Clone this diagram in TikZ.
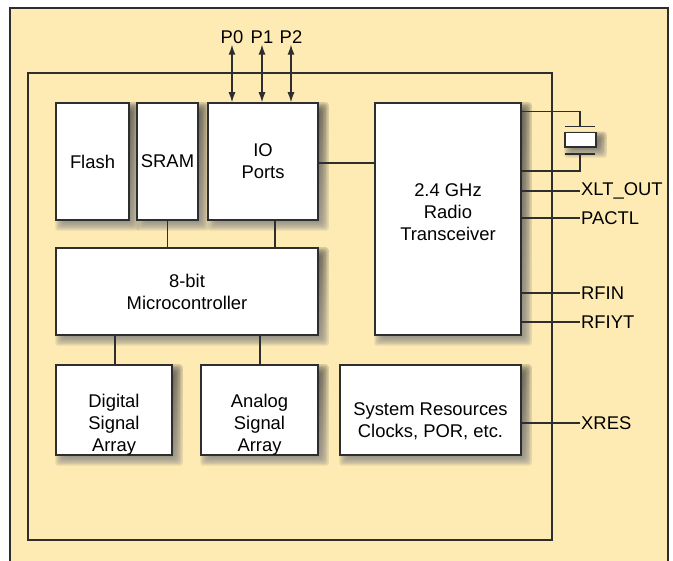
\documentclass[tikz,border=0pt]{standalone}
\usepackage{fontspec}
\setmainfont{Liberation Sans}
\usetikzlibrary{arrows.meta}
\definecolor{panel}{HTML}{FEEBB4}
\definecolor{edge}{HTML}{2E2E2E}
\definecolor{shade}{HTML}{3A2E08}

\pgfdeclarelayer{bg}
\pgfdeclarelayer{shadowlayer}
\pgfsetlayers{bg,shadowlayer,main}

% weicher Schatten rechts unten
\newcommand{\softshadow}[1]{%
  \begin{pgfonlayer}{shadowlayer}
    \foreach \e in {-4,-2.5,...,5.5} {
      \fill[shade, opacity=0.1, rounded corners=3pt]
        ([shift={(5pt-\e pt,-5pt+\e pt)}]#1.north west) rectangle
        ([shift={(5pt+\e pt,-5pt-\e pt)}]#1.south east);
    }
  \end{pgfonlayer}}

\begin{document}
\begin{tikzpicture}[
    x=1pt, y=-1pt,
    font=\fontsize{18.4}{22}\selectfont,
    >={Latex[length=10pt,width=7pt]},
    block/.style={draw=edge, line width=1.5pt, fill=white, inner sep=0pt, align=center},
    txt/.style={align=center, inner sep=0pt},
    pinlbl/.style={anchor=west, inner sep=1pt},
    wire/.style={draw=edge, line width=1.3pt}
]
\useasboundingbox (0,0) rectangle (673,561);

% --- RAHMEN ---
\begin{pgfonlayer}{bg}
  \fill[panel] (10,8) rectangle (668,561);
\end{pgfonlayer}
\draw[edge, line width=1.8pt] (10,561) -- (10,8) -- (668,8) -- (668,561);
\draw[edge, line width=1.5pt] (28,73) rectangle (552,540);

% --- BLOECKE OBEN ---
\node[block, minimum width=73pt, minimum height=117pt] (flash) at (92.5,161.5) {Flash};
\node[block, minimum width=61pt, minimum height=117pt] (sram) at (167.5,161.5) {SRAM};
\node[block, minimum width=110pt, minimum height=117pt] (io) at (263,161.5) {IO\\Ports};
\node[block, minimum width=146pt, minimum height=232pt] (radio) at (448,219) {};
\node[txt] (radiotxt) at (448,212) {2.4 GHz\\Radio\\Transceiver};

% --- MIKROCONTROLLER ---
\node[block, minimum width=262pt, minimum height=87pt] (mcu) at (187,291.5) {8-bit\\Microcontroller};

% --- BLOECKE UNTEN ---
\node[block, minimum width=116pt, minimum height=90pt] (digital) at (114,410) {};
\node[txt] (digitaltxt) at (114,425) {Digital\\Signal\\Array};
\node[block, minimum width=117pt, minimum height=90pt] (analog) at (259.5,410) {};
\node[txt] (analogtxt) at (259.5,425) {Analog\\Signal\\Array};
\node[block, minimum width=181pt, minimum height=90pt] (sysres) at (430.5,410) {};
\node[txt] (sysrestxt) at (430.5,421) {System Resources\\Clocks, POR, etc.};

% --- VERBINDUNGEN ---
\draw[wire] (sram.south) -- (sram.south |- mcu.north);
\draw[wire] (io.south -| 275,0) -- (mcu.north -| 275,0);
\draw[wire] (mcu.south -| 115,0) -- (digital.north -| 115,0);
\draw[wire] (mcu.south -| 260,0) -- (analog.north -| 260,0);
\draw[wire] (io.east |- 0,163) -- (radio.west |- 0,163);

% --- PORTS P0..P2 ---
\foreach \name/\px in {P0/232, P1/262, P2/291} {
    \node[inner sep=1pt] (\name) at (\px,37) {\name};
    \draw[wire, <->] (\name.south) -- (\name.south |- io.north);
}

% --- QUARZ ---
\node[block, minimum width=31pt, minimum height=14.5pt] (xtal) at (580.5,139.75) {};
\draw[wire] (radio.east |- 0,111.5) -- (580,111.5) -- (580,126.5);
\draw[wire] (radio.east |- 0,171) -- (580,171) -- (580,154);
\draw[wire] (565,126.5) -- (595,126.5);
\draw[wire] (565,154) -- (595,154);

% --- PINS ---
\foreach \pin/\py/\ptext in {xltout/191/XLT\_OUT, pactl/218/PACTL, rfin/293/RFIN, rfiyt/322/RFIYT} {
    \node[pinlbl] (\pin) at (580,\py) {\ptext};
    \draw[wire] (\pin.west -| radio.east) -- (\pin.west);
}
\node[pinlbl] (xres) at (580,423) {XRES};
\draw[wire] (xres.west -| sysres.east) -- (xres.west);

% --- SCHATTEN ---
\foreach \b in {flash, sram, io, radio, mcu, digital, analog, sysres, xtal} {
    \softshadow{\b}
}
\end{tikzpicture}
\end{document}
